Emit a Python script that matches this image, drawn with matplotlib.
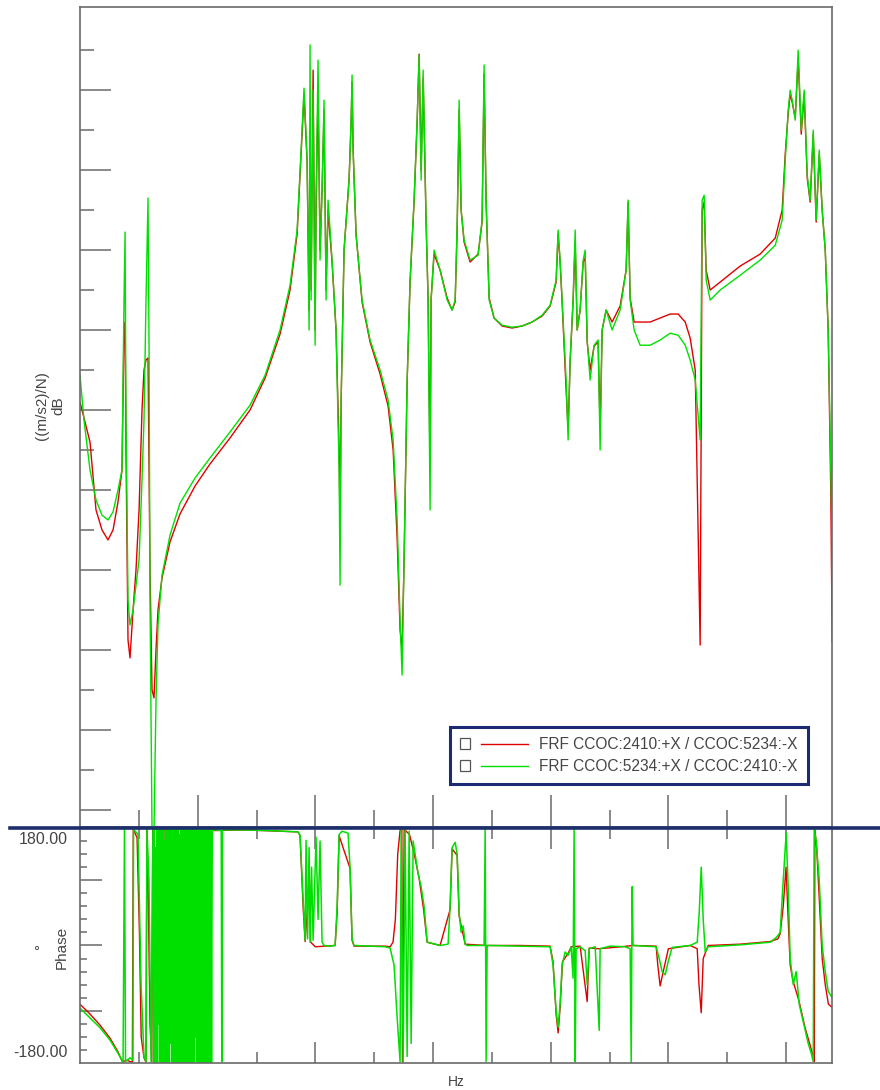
import numpy as np
import matplotlib
matplotlib.use("Agg")
import matplotlib.pyplot as plt
from matplotlib.lines import Line2D
from matplotlib.patches import Rectangle
from matplotlib.transforms import blended_transform_factory

plt.rcParams['font.family'] = ['Liberation Sans', 'DejaVu Sans']

# FRF magnitude, green trace (Hz, dB)
freq_g = [0, 3.4, 8.5, 13.6, 18.7, 23.8, 28.1, 32.3, 35.7, 37.4, 38.3, 39.1, 40.8, 42.5, 45.1, 47.6,
          50.2, 52.7, 54.4, 56.1, 57.8, 58.7, 59.5, 61.2, 62.9, 64.6, 66.3, 69.7, 76.5, 85, 97.8,
          110.5, 127.5, 144.5, 157.3, 170, 178.5, 184.5, 187.9, 190.4, 193, 194.7, 195.5, 196.4,
          198.1, 199.8, 200.6, 202.3, 204, 205.7, 207.4, 209.1, 210.8, 214.2, 217.6, 220.2, 221,
          221.9, 224.4, 228.7, 230.4, 231.2, 232.1, 234.6, 239.7, 246.5, 255, 261.8, 266.1, 269.5,
          272, 273.7, 275.4, 278, 280.5, 283.9, 286.5, 288.2, 289.9, 291.6, 294.1, 295.8, 297.5,
          298.4, 300.9, 306, 312, 316.2, 318.8, 320.5, 322.2, 323.9, 326.4, 331.5, 338.3, 341.7,
          343.4, 345.1, 347.7, 351.9, 358.7, 367.2, 375.7, 384.2, 392.7, 399.5, 404.6, 406.3, 408,
          409.7, 413.1, 414.8, 416.5, 419, 420.8, 422.5, 425, 427.6, 429.3, 431, 433.5, 436.9,
          440.3, 442, 443.7, 447.1, 452.2, 459, 464.1, 465.8, 467.5, 470.9, 476, 484.5, 493, 501.5,
          508.3, 514.3, 518.5, 522.8, 527, 528.7, 530.4, 532.1, 535.5, 544, 561, 578, 590.8, 596.7,
          599.3, 601.8, 603.5, 605.2, 607.8, 610.3, 612.9, 615.4, 618, 620.5, 623.1, 625.6, 628.2,
          630.7, 633.3, 635.8, 639.2]
mag_g = [-71.3, -82.5, -95, -102.5, -106.3, -107.5, -105.5, -100, -95, -52.5, -35.5, -82.5, -127.5,
         -133.8, -130, -123.8, -117.5, -97.5, -82.5, -52.5, -27, -65, -127.5, -185, -185, -152.5,
         -133.8, -121.3, -111.3, -103.3, -97, -92, -85.5, -78.8, -71.3, -60, -48.8, -35, -15, 0.5,
         -17.5, -60, 11.3, -52.5, 0, -63.8, -27.5, 7.5, -42.5, -25, -2.5, -52.5, -27.5, -42.5, -60,
         -95, -123.8, -77.5, -40, -22.5, -7.5, 3.8, -15, -36.3, -52.5, -62.5, -70, -77.5, -87.5,
         -107.5, -132.5, -146.3, -117.5, -72.5, -47.5, -27.5, -7.5, 8.8, -22.5, 5, -32.5, -52.5,
         -105, -52.5, -40, -45, -52.5, -55, -52.5, -33.8, -2.5, -30, -37.5, -42.5, -41.3, -32.5,
         6.3, -27.5, -52.5, -57, -58.8, -59.3, -59, -58, -56.3, -53.8, -47.5, -35, -42.5, -52.5,
         -72.5, -87.5, -67.5, -52.5, -35, -60, -55, -42.5, -40, -62.5, -72.5, -63.8, -62.5, -90,
         -60, -55, -60, -55, -45, -27.5, -52.5, -60, -63.8, -63.8, -62.5, -60.8, -61.3, -63.8,
         -67.5, -72.5, -87.5, -27.5, -26.3, -47.5, -52.5, -50, -46.3, -42.5, -38.8, -32.5, -17.5,
         -5, 0, -2.5, -7.5, 10, -10, 0, -21.3, -27.5, -10, -32.5, -15, -30, -40, -60, -112.5]

# FRF magnitude, red trace (Hz, dB)
freq_r = [0, 8.5, 13.6, 18.7, 23.8, 28.1, 32.3, 35.7, 37.4, 38.3, 39.1, 40.8, 42.5, 45.1, 47.6, 50.2,
          52.7, 54.4, 56.1, 57.8, 59.5, 61.2, 62.9, 64.6, 66.3, 69.7, 76.5, 85, 97.8, 110.5, 127.5,
          144.5, 157.3, 170, 178.5, 184.5, 187.9, 190.4, 193, 194.7, 195.5, 196.4, 198.1, 199.8,
          200.6, 202.3, 204, 205.7, 207.4, 209.1, 210.8, 214.2, 217.6, 220.2, 221, 221.9, 224.4,
          228.7, 230.4, 231.2, 232.1, 234.6, 239.7, 246.5, 255, 261.8, 266.1, 269.5, 272, 273.7,
          275.4, 278, 280.5, 283.9, 286.5, 288.2, 289.9, 291.6, 294.1, 295.8, 297.5, 298.4, 300.9,
          306, 312, 316.2, 318.8, 320.5, 322.2, 323.9, 326.4, 331.5, 338.3, 341.7, 343.4, 345.1,
          347.7, 351.9, 358.7, 367.2, 375.7, 384.2, 392.7, 399.5, 404.6, 406.3, 408, 409.7, 413.1,
          414.8, 416.5, 419, 420.8, 422.5, 425, 427.6, 429.3, 431, 433.5, 436.9, 440.3, 442, 443.7,
          447.1, 452.2, 459, 464.1, 465.8, 467.5, 470.9, 476, 484.5, 493, 501.5, 508.3, 514.3,
          518.5, 522.8, 527, 528.7, 530.4, 532.1, 535.5, 544, 561, 578, 590.8, 596.7, 599.3, 601.8,
          603.5, 605.2, 607.8, 610.3, 612.9, 615.4, 618, 620.5, 623.1, 625.6, 628.2, 630.7, 633.3,
          635.8, 638, 639.2]
mag_r = [-78, -88, -105, -110, -112.5, -110, -103, -95, -60, -58, -90, -137.5, -142, -130, -120, -105,
         -80, -70, -67.5, -67, -120, -150, -152, -140, -130, -122, -113, -106, -99, -93.5, -87, -80,
         -72, -61, -50, -36, -16, -1, -18, -55, -10, -50, 5, -60, -30, 0, -40, -25, -5, -50, -30, -43,
         -60, -90, -110, -78, -40, -22, -8, 2, -15, -36, -53, -63, -71, -79, -90, -112, -135, -140,
         -118, -73, -48, -28, -8, 9, -20, 3, -33, -52, -95, -52, -41, -45, -52, -55, -53, -35, -5,
         -30, -38, -43, -41, -33, 4, -28, -52, -57, -59, -59.5, -59, -58, -56.5, -54, -48, -36, -43,
         -53, -75, -85, -68, -53, -38, -60, -55, -43, -42, -63, -70, -64, -63, -85, -60, -55, -58,
         -54, -45, -28, -52, -58, -58, -58, -57, -56, -56, -58, -62, -70, -138.8, -30, -28, -45,
         -50, -48, -44, -41, -37, -30, -16, -6, -1, -3, -7, 8, -11, -1, -22, -28, -11, -33, -16,
         -30, -40, -60, -100, -138]

# phase, green trace (Hz, deg); the noisy band near 62-113 Hz is listed separately
pfreq_g_lo = [0, 8.5, 17, 25.5, 32.3, 36.6, 37.8, 38.7, 42.5, 45, 45.5, 49.3, 51.9, 54.4, 56.1, 56.9,
              58.6, 60.4]
phase_g_lo = [-96, -111, -126, -145, -165, -179, 180, -178, -172, -176, 178, 170, -60, -170, -178,
              178, 100, -178]
wall_freq = [62.0, 62.6, 63.1, 63.7, 64.2, 64.8, 65.4, 65.9, 66.5, 67.0,
             67.6, 68.2, 68.7, 69.3, 69.8, 70.4, 71.0, 71.5, 72.1, 72.6,
             73.2, 73.8, 74.3, 74.9, 75.4, 76.0, 76.6, 77.1, 77.7, 78.2,
             78.8, 79.4, 79.9, 80.5, 81.0, 81.6, 82.2, 82.7, 83.3, 83.8,
             84.4, 85.0, 85.5, 86.1, 86.6, 87.2, 87.8, 88.3, 88.9, 89.4,
             90.0, 90.6, 91.1, 91.7, 92.2, 92.8, 93.4, 93.9, 94.5, 95.0,
             95.6, 96.2, 96.7, 97.3, 97.8, 98.4, 99.0, 99.5, 100.1, 100.6,
             101.2, 101.8, 102.3, 102.9, 103.4, 104.0, 104.6, 105.1, 105.7, 106.2,
             106.8, 107.4, 107.9, 108.5, 109.0, 109.6, 110.2, 110.7, 111.3, 111.8,
             112.4, 113.0]
wall_phase = [179, -179, 179, -179, 150, -179, 179, -179, 179, -120,
              179, -179, 179, -179, 179, -179, 179, -179, 160, -179,
              179, -179, 179, -179, 179, -179, 179, -150, 179, -179,
              179, -179, 179, -179, 179, -179, 179, -179, 179, -179,
              170, -179, 179, -179, 179, -179, 179, -179, 179, -179,
              179, -179, 179, -179, 179, -179, 179, -179, 179, -179,
              179, -179, 179, -179, 179, -140, 179, -179, 179, -179,
              179, -179, 179, -179, 179, -179, 179, -179, 179, -179,
              179, -179, 179, -179, 179, -179, 179, -179, 179, -179,
              179, 177]
pfreq_g_hi = [115, 120, 120.5, 121, 140, 160, 185.3, 187,
              189.6, 191.3, 192.1, 193.4, 194.7, 195.5, 196.8, 198.1, 200.6, 202.3, 204, 205.7, 207.4,
              212.5, 216.8, 218.5, 220.2, 222.7, 227.8, 229.5, 231.2, 232.9, 246.5, 259.3, 263.5,
              266.9, 269.5, 272, 272.9, 274.6, 276.3, 278, 279.7, 281.4, 283.1, 284.8, 287.3, 289.9,
              292.4, 295, 306, 312.8, 314.5, 316.2, 318.8, 320.5, 322.2, 323.9, 325.6, 327.3, 329,
              343.4, 344.3, 345.1, 346, 374, 399.5, 402, 404.6, 406.3, 408, 409.7, 412.3, 414.8, 417.4,
              419, 419.9, 420.8, 421.6, 425, 429.3, 431, 432.7, 437.8, 441.2, 442, 450.5, 463.3, 467.5,
              468.4, 469.2, 470, 480.3, 489.6, 492.2, 494.7, 497.3, 499.8, 503.2, 518.5, 524.5, 526.2,
              527.9, 529.6, 531.3, 533.8, 561, 586.5, 591.6, 595, 597.6, 600.1, 601.8, 603.5, 606.1,
              608.6, 611.2, 613.7, 616.3, 618.8, 621.4, 623.1, 623.9, 625.6, 628.2, 630.7, 633.3,
              635.8, 639.2]
phase_g_hi = [177, 176, -178, 177, 177, 176, 174, 169, 70, 8, 161, 10, 150, 5, 120,
              8, 166, 40, 160, 5, 0, -1, 0, 60, 170, 175, 172, 120, 10, 0, -1, -2, -4, -30, -110, -178,
              178, -178, 178, -170, 175, -150, 160, 140, 110, 90, 60, 5, 0, 2, 60, 150, 158, 140, 50,
              20, 30, 2, 0, 0, 178, -178, 0, -1, -2, -30, -100, -125, -90, -30, -10, -15, -3, -50, 178,
              -178, -5, -2, -8, -60, -5, -2, -130, -5, -1, -2, -5, -180, 90, 0, -1, -2, -20, -40, -45,
              -25, -3, 0, 5, 50, 120, 40, -10, -2, 1, 5, 12, 20, 100, 172, 90, -20, -60, -40, -90, -110,
              -130, -150, -165, -178, 178, 160, 100, 0, -40, -70, -80]

# phase, red trace (Hz, deg)
pfreq_r = [0, 8.5, 17, 25.5, 32.3, 36, 40, 44.5, 45.3, 48.5, 50.5, 52, 54.4, 56.1, 56.9, 58, 59.5, 61,
           61.8, 70, 70.6, 71.3, 79, 79.5, 80.2, 99, 99.5, 100.2, 113, 140, 185.3, 187, 189.6,
           191.3, 195, 196, 200, 216.8, 218.5, 220.2, 229.5, 231.2, 232.9, 246.5, 259.3, 263.5, 266,
           268, 270, 272, 273.5, 274, 275.5, 280, 284, 288, 292, 295, 306, 314.5, 316.2, 320.5,
           322.2, 327.3, 345, 374, 399.5, 402, 404.6, 406.3, 408, 410, 414.8, 417.4, 425, 431,
           432.7, 441.2, 460, 470, 489.6, 491, 493, 495, 500, 518.5, 524.5, 526, 527.9, 529.6, 533.8,
           561, 586.5, 593, 595, 597.6, 600, 601.8, 603.5, 606, 611, 616, 620, 623.1, 624, 624.5,
           626, 628, 630.7, 633.3, 636, 639.2]
phase_r = [-90, -105, -122, -142, -163, -178, -176, -179, 178, 165, 20, -140, -172, -179, 179, 80,
           -120, -178, 178, 178, -178, 178, 178, -178, 178, 178, -178, 178, 176, 177, 174, 168, 60, 6,
           100, 5, -2, 0, 50, 168, 118, 8, -1, -1, -1, -2, 5, 40, 140, 176, 178, -178, 178, 170, 140,
           105, 55, 5, 0, 55, 148, 138, 45, 2, 0, 0, -1, -25, -105, -134, -95, -25, -12, -2, -1, -86,
           -4, -5, -2, 0, -1, -30, -62, -45, -5, 0, -5, -60, -103, -20, 0, 2, 6, 10, 18, 60, 120, 40,
           -30, -55, -85, -125, -150, -170, -178, 178, 150, 80, -20, -60, -90, -95]

labels = ['FRF CCOC:2410:+X / CCOC:5234:-X', 'FRF CCOC:5234:+X / CCOC:2410:-X']

red = '#e00000'
green = '#00e000'
spine_col = '#6a6a6a'
txt_col = '#454545'


class CheckHandler:
    def __init__(self, color):
        self.color = color

    def legend_artist(self, legend, orig_handle, fontsize, handlebox):
        x0, y0 = handlebox.xdescent, handlebox.ydescent
        w, h = handlebox.width, handlebox.height
        s = h * 0.95
        tr = handlebox.get_transform()
        box = Rectangle((x0, y0 + (h - s) / 2), s, s, facecolor='white',
                        edgecolor='#555555', lw=0.9, transform=tr)
        ln = Line2D([x0 + s + 0.15 * w, x0 + w * 0.95], [y0 + h / 2, y0 + h / 2],
                    color=self.color, lw=1.0, transform=tr)
        handlebox.add_artist(box)
        handlebox.add_artist(ln)
        return ln


fig = plt.figure(figsize=(8.8, 10.9), dpi=100)
ax1 = fig.add_axes([0.0909, 0.2413, 0.8545, 0.7523])
ax2 = fig.add_axes([0.0909, 0.0248, 0.8545, 0.2156])

ax1.plot(freq_r, mag_r, color=red, lw=1.0)
ax1.plot(freq_g, mag_g, color=green, lw=1.0)
ax2.plot(pfreq_r, phase_r, color=red, lw=1.0)
ax2.plot(pfreq_g_lo + wall_freq + pfreq_g_hi, phase_g_lo + wall_phase + phase_g_hi,
         color=green, lw=1.1)

for ax in (ax1, ax2):
    ax.set_xlim(0, 639)
    ax.set_xticks(np.arange(100, 700, 100))
    ax.set_xticks(np.arange(50, 650, 100), minor=True)
    for sp in ax.spines.values():
        sp.set_color(spine_col)
        sp.set_linewidth(1.2)

ax1.set_ylim(-184.3, 20.8)
ax1.set_yticks(np.arange(-180, 1, 20))
ax1.set_yticks(np.arange(-170, 11, 20), minor=True)
ax1.tick_params(which='both', direction='in', color=spine_col, width=1.1,
                labelleft=False, labelbottom=False)
ax1.tick_params(axis='x', which='major', length=23)
ax1.tick_params(axis='x', which='minor', length=12)
ax1.tick_params(axis='y', which='major', length=22)
ax1.tick_params(axis='y', which='minor', length=10)

ax2.set_ylim(-180, 180)
ax2.set_yticks([-100, 0, 100])
ax2.set_yticks(np.arange(-160, 161, 20), minor=True)
ax2.tick_params(which='both', direction='in', color=spine_col, width=1.1,
                labelleft=False, labelbottom=False, top=True)
ax2.tick_params(axis='x', which='major', length=15)
ax2.tick_params(axis='x', which='minor', length=8)
ax2.tick_params(axis='y', which='major', length=16)
ax2.tick_params(axis='y', which='minor', length=5)

bt = blended_transform_factory(ax2.transAxes, ax2.transData)
ax2.text(-0.016, 162, '180.00', transform=bt, ha='right', va='center', fontsize=11.5, color=txt_col)
ax2.text(-0.016, -164, '-180.00', transform=bt, ha='right', va='center', fontsize=11.5, color=txt_col)

fig.text(0.057, 0.628, '((m/s2)/N)\ndB', rotation=90, ha='center', va='center',
         multialignment='center', fontsize=11, color=txt_col, linespacing=1.3)
fig.text(0.058, 0.131, '°\nPhase', rotation=90, ha='center', va='center',
         multialignment='center', fontsize=11, color=txt_col, linespacing=1.6)
fig.text(0.519, 0.0073, 'Hz', ha='center', va='center', fontsize=10, color=txt_col)

h1 = Line2D([], [], color=red)
h2 = Line2D([], [], color=green)
leg = ax1.legend([h1, h2], labels, loc='upper left', bbox_to_anchor=(0.492, 0.122),
                 borderaxespad=0, fontsize=11.2, handlelength=4.6, handletextpad=0.5,
                 labelspacing=0.45, borderpad=0.65, fancybox=False, framealpha=1,
                 handler_map={h1: CheckHandler(red), h2: CheckHandler(green)})
leg.get_frame().set_edgecolor('#1b2a73')
leg.get_frame().set_linewidth(2.2)
for t in leg.get_texts():
    t.set_color(txt_col)

fig.add_artist(Line2D([10 / 880, 1], [0.2408, 0.2408], transform=fig.transFigure,
                      color='#1c2f6b', lw=2.6))

plt.savefig('out.png', dpi=100, facecolor='white')
